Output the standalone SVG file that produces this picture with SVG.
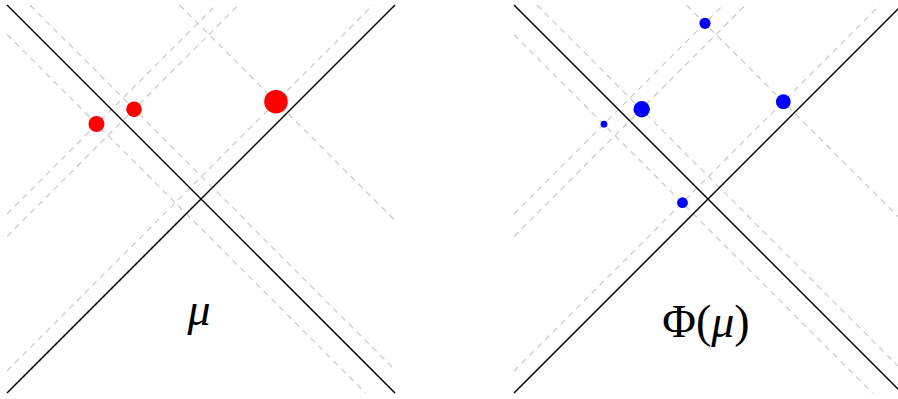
<svg xmlns="http://www.w3.org/2000/svg" width="898" height="399" viewBox="0 0 898 399">
  <style>
    .grid { stroke: #c4c4c4; stroke-width: 1.1; stroke-dasharray: 6 5; fill: none; }
    .axis line { stroke: #000; stroke-width: 1.5; }
    .lbl { font-family: "Liberation Serif", "DejaVu Serif", serif; font-size: 46px; fill: #000; }
    .it { font-style: italic; }
    .red { fill: #ff0000; }
    .blue { fill: #0000ff; }
  </style>
  <defs>
    <clipPath id="boxL"><rect x="7" y="5" width="388" height="388"/></clipPath>
    <clipPath id="boxR"><rect x="514" y="5" width="388" height="388"/></clipPath>
    <g id="gridlines" class="grid">
      <line x1="-194" y1="-164.5" x2="164.5" y2="194"/>
      <line x1="-171" y1="-194" x2="194" y2="171"/>
      <line x1="-21.5" y1="-194" x2="194" y2="21.5"/>
      <line x1="-194" y1="15" x2="15" y2="-194"/>
      <line x1="-194" y1="37.5" x2="37.5" y2="-194"/>
      <line x1="-194" y1="172" x2="172" y2="-194"/>
    </g>
  </defs>

  <g id="panel-left">
    <g id="connectors-left">
      <g clip-path="url(#boxL)">
        <use href="#gridlines" transform="translate(201,199)"/>
      </g>
      <g class="axis">
        <line x1="7" y1="5" x2="395" y2="393"/>
        <line x1="7" y1="393" x2="395" y2="5"/>
      </g>
    </g>
    <g id="dot-left-a"><circle class="red" cx="96.5" cy="124" r="8"/></g>
    <g id="dot-left-b"><circle class="red" cx="134" cy="109.3" r="7.8"/></g>
    <g id="dot-left-c"><circle class="red" cx="276" cy="101.7" r="11.8"/></g>
    <g id="label-left">
      <text class="lbl it" x="199" y="325" text-anchor="middle">μ</text>
    </g>
  </g>

  <g id="panel-right">
    <g id="connectors-right">
      <g clip-path="url(#boxR)">
        <use href="#gridlines" transform="translate(708,199)"/>
      </g>
      <g class="axis">
        <line x1="514" y1="5" x2="902" y2="393"/>
        <line x1="514" y1="393" x2="902" y2="5"/>
      </g>
    </g>
    <g id="dot-right-1"><circle class="blue" cx="705" cy="23.3" r="5.6"/></g>
    <g id="dot-right-2"><circle class="blue" cx="641.7" cy="109.3" r="8.2"/></g>
    <g id="dot-right-3"><circle class="blue" cx="604" cy="124.2" r="3.4"/></g>
    <g id="dot-right-4"><circle class="blue" cx="783.3" cy="101.7" r="7.4"/></g>
    <g id="dot-right-5"><circle class="blue" cx="682.5" cy="202.7" r="5.4"/></g>
    <g id="label-right">
      <text class="lbl" x="706" y="337" text-anchor="middle">Φ(<tspan class="it">μ</tspan>)</text>
    </g>
  </g>
</svg>
